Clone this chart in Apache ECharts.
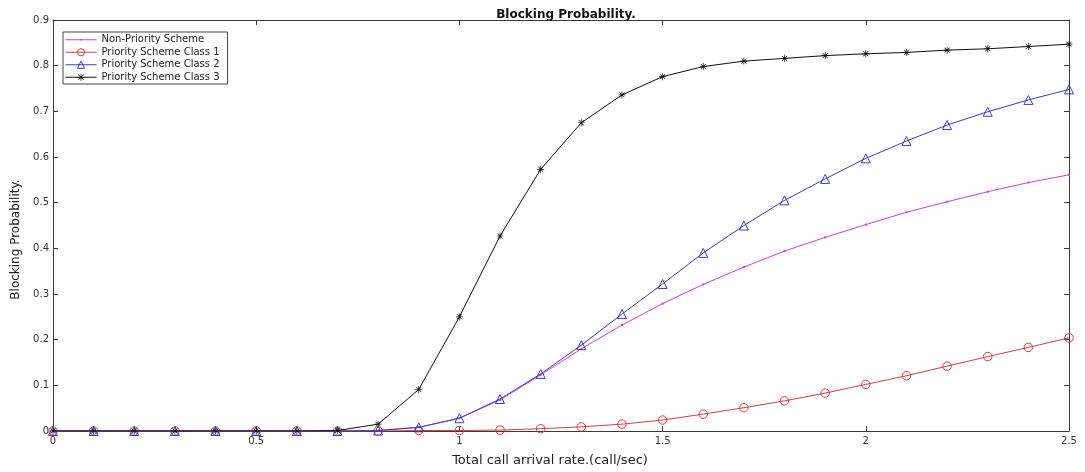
<!DOCTYPE html>
<html><head><meta charset="utf-8">
<script src="https://cdn.jsdelivr.net/npm/echarts@6/dist/echarts.min.js"></script>
<style>html,body{margin:0;padding:0;background:#fff}#c{width:1085px;height:472px}</style>
</head><body><div id="c"></div>
<script>
const xs = [0,0.1,0.2,0.3,0.4,0.5,0.6,0.7,0.8,0.9,1.0,1.1,1.2,1.3,1.4,1.5,1.6,1.7,1.8,1.9,2.0,2.1,2.2,2.3,2.4,2.5];
const nonPriority = [0,0,0,0,0,0,0,0,0.001,0.008,0.028,0.068,0.123,0.18,0.232,0.279,0.321,0.359,0.394,0.424,0.452,0.479,0.502,0.524,0.544,0.561];
const class1 = [0,0,0,0,0,0,0,0,0,0.001,0.001,0.002,0.005,0.009,0.015,0.024,0.037,0.051,0.066,0.083,0.102,0.121,0.142,0.163,0.183,0.204];
const class2 = [0,0,0,0,0,0,0,0,0.001,0.008,0.028,0.07,0.125,0.188,0.256,0.322,0.39,0.45,0.505,0.552,0.597,0.635,0.670,0.699,0.725,0.748];
const class3 = [0,0,0,0,0,0,0,0.001,0.015,0.091,0.25,0.427,0.573,0.675,0.736,0.776,0.798,0.810,0.816,0.822,0.826,0.829,0.834,0.837,0.842,0.847];
const names = ['Non-Priority Scheme','Priority Scheme Class 1','Priority Scheme Class 2','Priority Scheme Class 3'];
const colors = ['#d23cd2','#d83c3c','#3c3cc4','#111111'];
const xTicks = [0,0.5,1,1.5,2,2.5];

const pair = arr => xs.map((x,i)=>[x,arr[i]]);
const star = 'path://M-0.5,-5L0.5,-5L0.5,5L-0.5,5Z M-5,-0.5L5,-0.5L5,0.5L-5,0.5Z M-3.89,-3.19L-3.19,-3.89L3.89,3.19L3.19,3.89Z M3.89,-3.19L-3.19,3.89L-3.89,3.19L3.19,-3.89Z';
const dot = 'path://M-5,-5M5,5M-1,-1L1,-1L1,1L-1,1Z';
const font = 'DejaVu Sans, Verdana, sans-serif';
const axisCol = '#3a3a3a';
const chart = echarts.init(document.getElementById('c'));
const baseAxis = {
  axisLine:{show:true,onZero:false,lineStyle:{color:axisCol,width:1}},
  axisTick:{show:true,inside:true,length:5,lineStyle:{color:axisCol}},
  splitLine:{show:false}
};
chart.setOption({
  animation:false,
  title:{text:'Blocking Probability.',left:561,top:4,textAlign:'center',
    textStyle:{fontFamily:font,fontSize:12,fontWeight:'bold',color:'#111'}},
  grid:{left:53,right:16,top:20,bottom:38},
  legend:{left:63,top:32,orient:'vertical',itemGap:1,itemWidth:31,itemHeight:9,
    borderColor:'#444',borderWidth:1,padding:[2,8,1,2],backgroundColor:'#fff',
    itemStyle:{borderWidth:1},
    textStyle:{fontFamily:font,fontSize:10,color:'#222',lineHeight:11.5},
    data:names.map((n,i)=>({name:n,lineStyle:{color:colors[i],width:1}}))},
  xAxis:[
    Object.assign({type:'value',min:0,max:2.5,interval:0.5,position:'bottom',
      name:'Total call arrival rate.(call/sec)',nameLocation:'middle',nameGap:23,
      nameTextStyle:{fontFamily:font,fontSize:13,color:'#222',padding:[0,22,0,0]},
      axisLabel:{fontFamily:font,fontSize:10,color:'#333',margin:5,
        formatter:v=>xTicks.includes(v)?String(v):''}},baseAxis),
    Object.assign({type:'value',min:0,max:2.5,interval:0.5,position:'top',axisLabel:{show:false}},baseAxis)
  ],
  yAxis:[
    Object.assign({type:'value',min:0,max:0.9,interval:0.1,position:'left',
      name:'Blocking Probability.',nameLocation:'middle',nameGap:30,
      nameTextStyle:{fontFamily:font,fontSize:12,color:'#222',padding:[0,28,0,0]},
      axisLabel:{fontFamily:font,fontSize:10,color:'#333',margin:4,
        formatter:v=>String(+v.toFixed(1))}},baseAxis),
    Object.assign({type:'value',min:0,max:0.9,interval:0.1,position:'right',axisLabel:{show:false}},baseAxis)
  ],
  series:[
    {name:names[0],type:'line',data:pair(nonPriority),symbol:dot,symbolSize:10,
      lineStyle:{color:colors[0],width:1},itemStyle:{color:colors[0],borderWidth:0},z:3},
    {name:names[1],type:'line',data:pair(class1),symbol:'circle',symbolSize:8.5,
      lineStyle:{color:colors[1],width:1},itemStyle:{color:'rgba(255,255,255,0)',borderColor:colors[1],borderWidth:1},z:4},
    {name:names[2],type:'line',data:pair(class2),symbol:'triangle',symbolSize:9,
      lineStyle:{color:colors[2],width:1},itemStyle:{color:'rgba(255,255,255,0)',borderColor:colors[2],borderWidth:1},z:5},
    {name:names[3],type:'line',data:pair(class3),symbol:star,symbolSize:7,
      lineStyle:{color:colors[3],width:1},itemStyle:{color:colors[3],borderWidth:0},z:6}
  ]
});
</script></body></html>
